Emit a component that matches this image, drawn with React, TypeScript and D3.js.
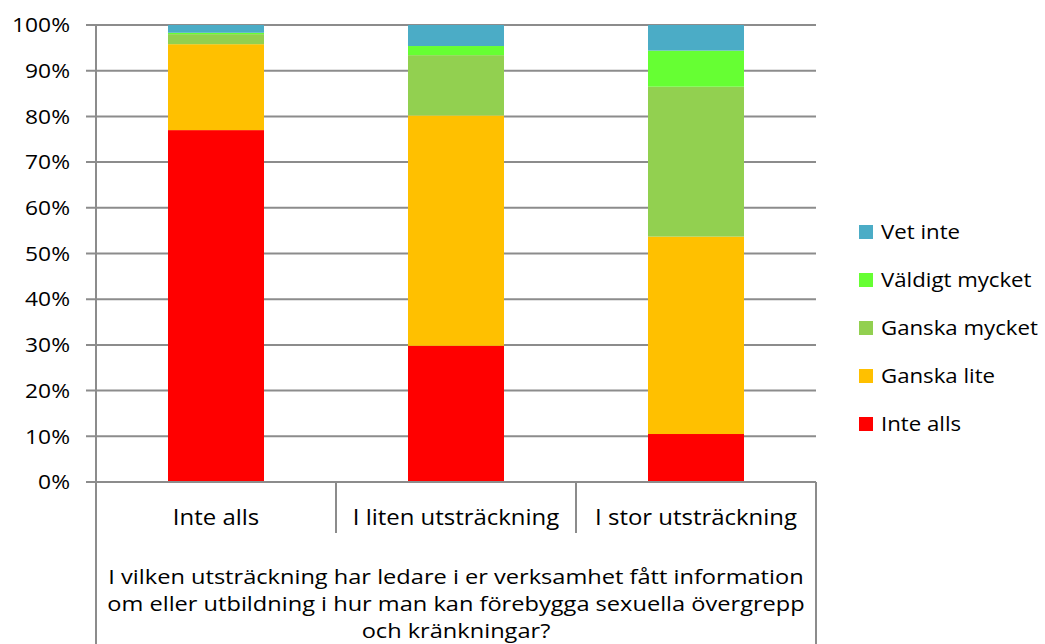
import React from "react";
import * as d3 from "d3";

const categories = ["Inte alls", "I liten utsträckning", "I stor utsträckning"];
const seriesNames = ["Inte alls", "Ganska lite", "Ganska mycket", "Väldigt mycket", "Vet inte"];
const inteAlls = [77.0, 29.8, 10.5];
const ganskaLite = [18.8, 50.4, 43.2];
const ganskaMycket = [2.2, 13.2, 32.8];
const valdigtMycket = [0.3, 2.0, 7.9];
const vetInte = [1.7, 4.6, 5.6];
const seriesColors = ["#FF0000", "#FFC000", "#92D050", "#66FF33", "#4BACC6"];
const yTicks = [0, 10, 20, 30, 40, 50, 60, 70, 80, 90, 100];
const titleLines = [
  "I vilken utsträckning har ledare i er verksamhet fått information",
  "om eller utbildning i hur man kan förebygga sexuella övergrepp",
  "och kränkningar?",
];

const W = 1045;
const H = 644;
const left = 96;
const right = 816;
const top = 25;
const bottom = 482;
const FONT = "'Open Sans', sans-serif";
const SX = 1.14;

function T({ x, y, children, anchor = "middle", size = 21 }: any) {
  return (
    <text
      transform={`translate(${x},${y}) scale(${SX},1)`}
      textAnchor={anchor}
      dy="0.36em"
      fontFamily={FONT}
      fontSize={size}
      fill="#000"
    >
      {children}
    </text>
  );
}

export default function App() {
  const allSeries = [inteAlls, ganskaLite, ganskaMycket, valdigtMycket, vetInte];
  const rows = categories.map((c, i) => {
    const r: any = { cat: c };
    seriesNames.forEach((s, j) => (r[s] = allSeries[j][i]));
    return r;
  });
  const stacked = d3.stack<any>().keys(seriesNames).offset(d3.stackOffsetExpand)(rows);

  const x = d3.scaleBand().domain(categories).range([left, right]).paddingInner(0.6).paddingOuter(0.3);
  const y = d3.scaleLinear().domain([0, 1]).range([bottom, top]);
  const yPct = d3.scaleLinear().domain([0, 100]).range([bottom, top]);
  const step = x.step();
  const grid = "#8C8C8C";

  const legendItems = [...seriesNames].reverse();
  const legendColors = [...seriesColors].reverse();

  return (
    <svg width={W} height={H} style={{ position: "absolute", left: 0, top: 0 }}>
      <rect width={W} height={H} fill="#fff" />
      {yTicks.map((t) => (
        <g key={t}>
          <line x1={left - 10} x2={right} y1={yPct(t)} y2={yPct(t)} stroke={grid} strokeWidth={2} />
          <T x={70} y={yPct(t)} anchor="end" size={20}>{`${t}%`}</T>
        </g>
      ))}
      {stacked.map((s, j) => (
        <g key={s.key} fill={seriesColors[j]}>
          {s.map((d: any, i: number) => (
            <rect
              key={i}
              x={x(categories[i])}
              width={x.bandwidth()}
              y={y(d[1])}
              height={Math.max(0, y(d[0]) - y(d[1]))}
            />
          ))}
        </g>
      ))}
      <line x1={left} x2={left} y1={top} y2={H} stroke={grid} strokeWidth={2} />
      <line x1={right} x2={right} y1={bottom} y2={H} stroke={grid} strokeWidth={2} />
      <line x1={left - 10} x2={right} y1={bottom} y2={bottom} stroke={grid} strokeWidth={2} />
      {categories.slice(1).map((c) => {
        const xx = (x(c) as number) - (step - x.bandwidth()) / 2;
        return <line key={c} x1={xx} x2={xx} y1={bottom} y2={533} stroke={grid} strokeWidth={2} />;
      })}
      {categories.map((c) => (
        <T key={c} x={(x(c) as number) + x.bandwidth() / 2} y={517}>
          {c}
        </T>
      ))}
      {titleLines.map((l, i) => (
        <T key={i} x={(left + right) / 2} y={577 + i * 27} size={20.7}>
          {l}
        </T>
      ))}
      {legendItems.map((n, i) => (
        <g key={n}>
          <rect x={859} y={232 + i * 48 - 7} width={14} height={14} fill={legendColors[i]} />
          <T x={881} y={232 + i * 48} anchor="start" size={19.5}>
            {n}
          </T>
        </g>
      ))}
    </svg>
  );
}
